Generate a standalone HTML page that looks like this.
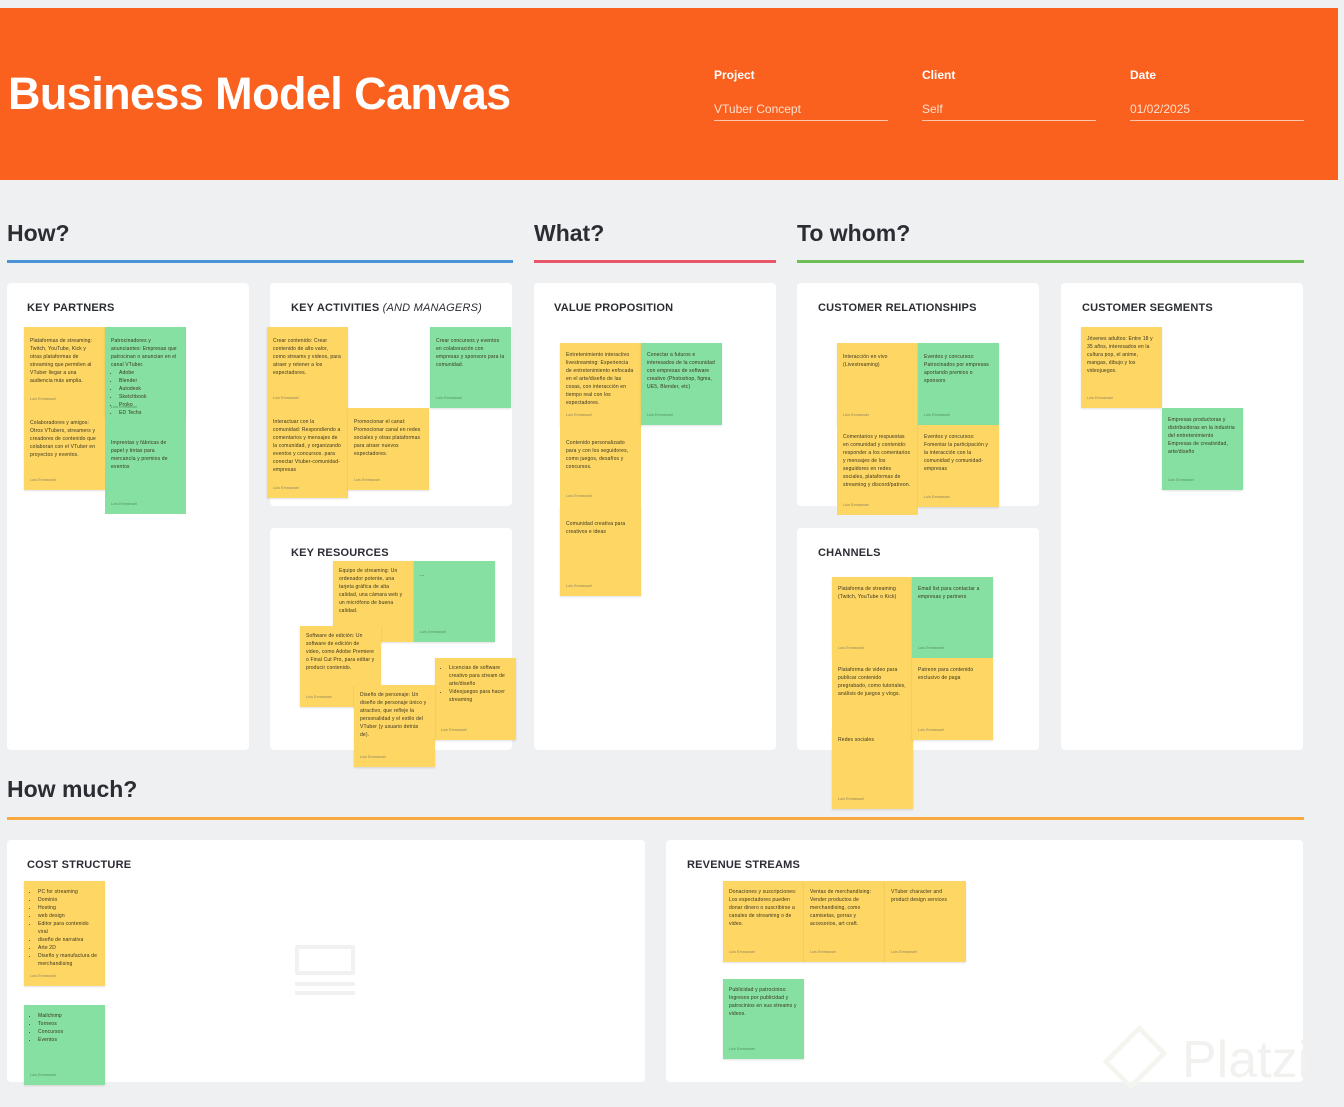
<!DOCTYPE html>
<html><head><meta charset="utf-8"><style>
*{margin:0;padding:0;box-sizing:border-box}
body{width:1344px;height:1107px;background:#eff0f2;position:relative;overflow:hidden;font-family:"Liberation Sans",sans-serif;color:#2b2d33}
.abs{position:absolute}
#hdr{left:0;top:8px;width:1338px;height:172px;background:#fa601e}
#title{left:8px;top:68px;font-size:45px;font-weight:bold;color:#fff;letter-spacing:-0.6px}
.lbl{font-size:12px;font-weight:bold;color:#fff}
.val{font-size:12px;color:#fde0cf;border-bottom:1.5px solid #fdc7ab;width:174px;padding-bottom:4px}
.sec{font-size:23px;font-weight:bold;color:#2b2d33}
.line{height:3px}
.panel{background:#fff;border-radius:4px}
.ph{font-size:11px;font-weight:bold;color:#2b2d33;letter-spacing:0.2px}
.n{position:absolute;width:81px;padding:10px 6px 0 6px;font-size:5px;line-height:8px;letter-spacing:0.15px;color:#3a3420;box-shadow:0 1px 2px rgba(0,0,0,0.12)}
.y{background:#fdd663}
.g{background:#86e0a1}
.n .a{position:absolute;left:6px;bottom:6px;font-size:3.5px;color:#8a7f5e}
.g .a{color:#4f8a60}
.n ul{padding-left:8px}
</style></head><body>
<div class="abs" id="hdr"></div>
<div class="abs" id="title">Business Model Canvas</div>
<div class="abs lbl" style="left:714px;top:68px">Project</div>
<div class="abs val" style="left:714px;top:102px">VTuber Concept</div>
<div class="abs lbl" style="left:922px;top:68px">Client</div>
<div class="abs val" style="left:922px;top:102px">Self</div>
<div class="abs lbl" style="left:1130px;top:68px">Date</div>
<div class="abs val" style="left:1130px;top:102px">01/02/2025</div>

<div class="abs sec" style="left:7px;top:220px">How?</div>
<div class="abs sec" style="left:534px;top:220px">What?</div>
<div class="abs sec" style="left:797px;top:220px">To whom?</div>
<div class="abs line" style="left:7px;top:260px;width:506px;background:#4a94d8"></div>
<div class="abs line" style="left:534px;top:260px;width:242px;background:#e8566c"></div>
<div class="abs line" style="left:797px;top:260px;width:507px;background:#6cbf55"></div>
<div class="abs sec" style="left:7px;top:776px">How much?</div>
<div class="abs line" style="left:7px;top:817px;width:1297px;background:#f9a840"></div>

<div class="abs panel" style="left:7px;top:283px;width:242px;height:467px"></div>
<div class="abs panel" style="left:270px;top:283px;width:242px;height:223px"></div>
<div class="abs panel" style="left:270px;top:528px;width:242px;height:222px"></div>
<div class="abs panel" style="left:534px;top:283px;width:242px;height:467px"></div>
<div class="abs panel" style="left:797px;top:283px;width:242px;height:223px"></div>
<div class="abs panel" style="left:797px;top:528px;width:242px;height:222px"></div>
<div class="abs panel" style="left:1061px;top:283px;width:242px;height:467px"></div>
<div class="abs panel" style="left:7px;top:840px;width:638px;height:242px"></div>
<div class="abs panel" style="left:666px;top:840px;width:637px;height:242px"></div>

<div class="abs ph" style="left:27px;top:302px">KEY PARTNERS</div>
<div class="abs ph" style="left:291px;top:302px">KEY ACTIVITIES <i style="font-weight:normal">(AND MANAGERS)</i></div>
<div class="abs ph" style="left:291px;top:547px">KEY RESOURCES</div>
<div class="abs ph" style="left:554px;top:302px">VALUE PROPOSITION</div>
<div class="abs ph" style="left:818px;top:302px">CUSTOMER RELATIONSHIPS</div>
<div class="abs ph" style="left:818px;top:547px">CHANNELS</div>
<div class="abs ph" style="left:1082px;top:302px">CUSTOMER SEGMENTS</div>
<div class="abs ph" style="left:27px;top:859px">COST STRUCTURE</div>
<div class="abs ph" style="left:687px;top:859px">REVENUE STREAMS</div>

<div class="abs" style="left:295px;top:945px;width:60px;height:30px;border:4px solid #f1f1f1;border-radius:2px"></div>
<div class="abs" style="left:295px;top:982px;width:60px;height:4px;background:#f1f1f1"></div>
<div class="abs" style="left:295px;top:991px;width:60px;height:4px;background:#f1f1f1"></div>
<div class="abs" style="left:1110px;top:1025px;width:50px;height:65px;border:6px solid #f3f6ef;transform:rotate(45deg) scale(0.8)"></div>
<div class="abs" style="left:1182px;top:1030px;font-size:52px;color:#f1f2ef">Platzi</div>

<!-- Key partners -->
<div class="n y" style="left:24px;top:327px;height:82px">Plataformas de streaming: Twitch, YouTube, Kick y otras plataformas de streaming que permiten al VTuber llegar a una audiencia más amplia.<div class="a">Luis Emmanuel</div></div>
<div class="n y" style="left:24px;top:409px;height:81px">Colaboradores y amigos: Otros VTubers, streamers y creadores de contenido que colaboran con el VTuber en proyectos y eventos.<div class="a">Luis Emmanuel</div></div>
<div class="n g" style="left:105px;top:327px;height:90px">Patrocinadores y anunciantes: Empresas que patrocinan o anuncian en el canal VTuber.<ul><li>Adobe</li><li>Blender</li><li>Autodesk</li><li>Sketchbook</li><li>Proko</li><li>ED Techs</li></ul><div class="a">Luis Emmanuel</div></div>
<div class="n g" style="left:105px;top:417px;height:97px;box-shadow:none;padding-top:22px">Imprentas y fábricas de papel y tintas para mercancía y premios de eventos<div class="a">Luis Emmanuel</div></div>

<!-- Key activities -->
<div class="n y" style="left:267px;top:327px;height:81px">Crear contenido: Crear contenido de alto valor, como streams y videos, para atraer y retener a los espectadores.<div class="a">Luis Emmanuel</div></div>
<div class="n y" style="left:267px;top:408px;height:90px">Interactuar con la comunidad: Respondiendo a comentarios y mensajes de la comunidad, y organizando eventos y concursos. para conectar Vtuber-comunidad-empresas<div class="a">Luis Emmanuel</div></div>
<div class="n y" style="left:348px;top:408px;height:82px">Promocionar el canal: Promocionar canal en redes sociales y otras plataformas para atraer nuevos espectadores.<div class="a">Luis Emmanuel</div></div>
<div class="n g" style="left:430px;top:327px;height:81px">Crear concursos y eventos en colaboración con empresas y sponsors para la comunidad.<div class="a">Luis Emmanuel</div></div>

<!-- Key resources -->
<div class="n y" style="left:333px;top:561px;height:81px;padding-top:6px">Equipo de streaming: Un ordenador potente, una tarjeta gráfica de alta calidad, una cámara web y un micrófono de buena calidad.<div class="a">Luis Emmanuel</div></div>
<div class="n g" style="left:414px;top:561px;height:81px">...<div class="a">Luis Emmanuel</div></div>
<div class="n y" style="left:300px;top:626px;height:81px;padding-top:6px">Software de edición: Un software de edición de video, como Adobe Premiere o Final Cut Pro, para editar y producir contenido.<div class="a">Luis Emmanuel</div></div>
<div class="n y" style="left:435px;top:658px;height:82px;padding-top:6px"><ul><li>Licencias de software creativo para stream de arte/diseño</li><li>Videojuegos para hacer streaming</li></ul><div class="a">Luis Emmanuel</div></div>
<div class="n y" style="left:354px;top:685px;height:82px;padding-top:6px">Diseño de personaje: Un diseño de personaje único y atractivo, que refleje la personalidad y el estilo del VTuber (y usuario detrás de).<div class="a">Luis Emmanuel</div></div>

<!-- Value proposition -->
<div class="n y" style="left:560px;top:343px;height:82px;padding-top:8px">Entretenimiento interactivo livestreaming: Experiencia de entretenimiento enfocada en el arte/diseño de las cosas, con interacción en tiempo real con los espectadores.<div class="a">Luis Emmanuel</div></div>
<div class="n y" style="left:560px;top:425px;height:81px;box-shadow:none;padding-top:14px">Contenido personalizado para y con los seguidores, como juegos, desafíos y concursos.<div class="a">Luis Emmanuel</div></div>
<div class="n y" style="left:560px;top:506px;height:90px;padding-top:14px">Comunidad creativa para creativos e ideas<div class="a">Luis Emmanuel</div></div>
<div class="n g" style="left:641px;top:343px;height:82px;padding-top:8px">Conectar a futuros e interesados de la comunidad con empresas de software creativo (Photoshop, figma, UE5, Blender, etc)<div class="a">Luis Emmanuel</div></div>

<!-- Customer relationships -->
<div class="n y" style="left:837px;top:343px;height:82px">Interacción en vivo (Livestreaming)<div class="a">Luis Emmanuel</div></div>
<div class="n y" style="left:837px;top:425px;height:90px;box-shadow:none;padding-top:8px">Comentarios y respuestas en comunidad y contenido: responder a los comentarios y mensajes de los seguidores en redes sociales, plataformas de streaming y discord/patreon.<div class="a">Luis Emmanuel</div></div>
<div class="n g" style="left:918px;top:343px;height:82px">Eventos y concursos: Patrocinados por empresas aportando premios o sponsors<div class="a">Luis Emmanuel</div></div>
<div class="n y" style="left:918px;top:425px;height:82px;padding-top:8px">Eventos y concursos: Fomentar la participación y la interacción con la comunidad y comunidad-empresas<div class="a">Luis Emmanuel</div></div>

<!-- Channels -->
<div class="n y" style="left:832px;top:577px;height:81px;padding-top:8px">Plataforma de streaming (Twitch, YouTube o Kick)<div class="a">Luis Emmanuel</div></div>
<div class="n y" style="left:832px;top:658px;height:70px;box-shadow:none;padding-top:8px">Plataforma de video para publicar contenido pregrabado, como tutoriales, análisis de juegos y vlogs.</div>
<div class="n y" style="left:832px;top:728px;height:81px;padding-top:8px">Redes sociales<div class="a">Luis Emmanuel</div></div>
<div class="n g" style="left:912px;top:577px;height:81px;padding-top:8px">Email list para contactar a empresas y partners<div class="a">Luis Emmanuel</div></div>
<div class="n y" style="left:912px;top:658px;height:82px;padding-top:8px">Patreon para contenido exclusivo de paga<div class="a">Luis Emmanuel</div></div>

<!-- Customer segments -->
<div class="n y" style="left:1081px;top:327px;height:81px;padding-top:8px">Jóvenes adultos: Entre 18 y 35 años, interesados en la cultura pop, el anime, mangas, dibujo y los videojuegos.<div class="a">Luis Emmanuel</div></div>
<div class="n g" style="left:1162px;top:408px;height:82px;padding-top:8px">Empresas productoras y distribuidoras en la industria del entretenimiento Empresas de creatividad, arte/diseño<div class="a">Luis Emmanuel</div></div>

<!-- Cost -->
<div class="n y" style="left:24px;top:881px;height:105px;padding-top:7px"><ul><li>PC for streaming</li><li>Dominio</li><li>Hosting</li><li>web design</li><li>Editor para contenido viral</li><li>diseño de narrativa</li><li>Arte 2D</li><li>Diseño y manufactura de merchandising</li></ul><div class="a">Luis Emmanuel</div></div>
<div class="n g" style="left:24px;top:1005px;height:80px;padding-top:7px"><ul><li>Mailchimp</li><li>Torneos</li><li>Concursos</li><li>Eventos</li></ul><div class="a">Luis Emmanuel</div></div>

<!-- Revenue -->
<div class="n y" style="left:723px;top:881px;height:81px;padding-top:7px">Donaciones y suscripciones: Los espectadores pueden donar dinero o suscribirse a canales de streaming o de video.<div class="a">Luis Emmanuel</div></div>
<div class="n y" style="left:804px;top:881px;height:81px;padding-top:7px">Ventas de merchandising: Vender productos de merchandising, como camisetas, gorras y accesorios, art craft.<div class="a">Luis Emmanuel</div></div>
<div class="n y" style="left:885px;top:881px;height:81px;padding-top:7px">VTuber character and product design services<div class="a">Luis Emmanuel</div></div>
<div class="n g" style="left:723px;top:979px;height:80px;padding-top:7px">Publicidad y patrocinios: Ingresos por publicidad y patrocinios en sus streams y videos.<div class="a">Luis Emmanuel</div></div>
</body></html>
